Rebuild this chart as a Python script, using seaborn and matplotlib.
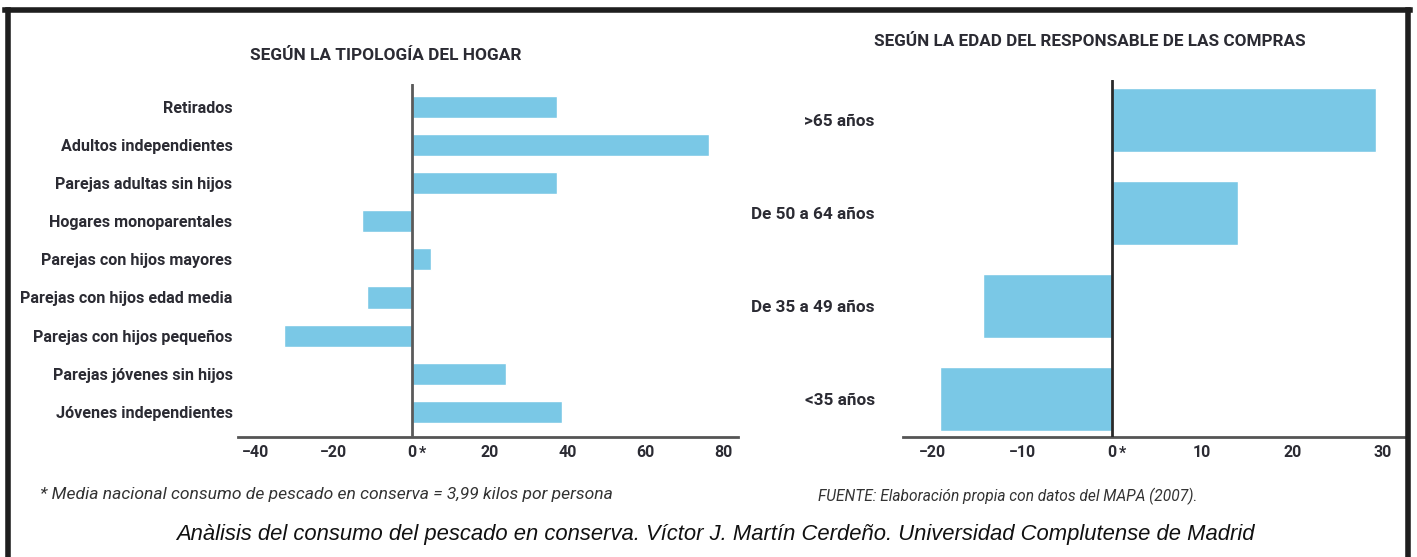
import seaborn as sns
import matplotlib.pyplot as plt
from matplotlib.lines import Line2D

sns.set_style("white")
plt.rcParams["font.family"] = ["Roboto", "DejaVu Sans"]

# ---------------------------
# data (desviación respecto a la media nacional, %)
# ---------------------------
tipologia = ["Retirados", "Adultos independientes", "Parejas adultas sin hijos",
             "Hogares monoparentales", "Parejas con hijos mayores",
             "Parejas con hijos edad media", "Parejas con hijos pequeños",
             "Parejas jóvenes sin hijos", "Jóvenes independientes"]
desv_hogar = [37.2, 76.2, 37.2, -12.8, 4.9, -11.5, -32.8, 24.1, 38.5]

edades = [">65 años", "De 50 a 64 años", "De 35 a 49 años", "<35 años"]
desv_edad = [29.3, 14.0, -14.4, -19.2]

ticks_hogar = [-40, -20, 0, 20, 40, 60, 80]
ticks_edad = [-20, -10, 0, 10, 20, 30]

BLUE = "#7AC8E6"
TXT = "#2b2b33"

fig = plt.figure(figsize=(14.17, 5.57), dpi=100)
ax1 = fig.add_axes([0.168, 0.2154, 0.353, 0.634])
ax2 = fig.add_axes([0.637, 0.2154, 0.355, 0.641])

# ---------------------------
# left: tipología del hogar
# ---------------------------
sns.barplot(x=desv_hogar, y=tipologia, orient="h", color=BLUE, width=0.58,
            saturation=1, ax=ax1)
ax1.set_xlim(-44.5, 83.7)
ax1.set_ylim(8.66, -0.60)
ax1.set_xticks(ticks_hogar)

# ---------------------------
# right: edad del responsable
# ---------------------------
sns.barplot(x=desv_edad, y=edades, orient="h", color=BLUE, width=0.69,
            saturation=1, ax=ax2)
ax2.set_xlim(-23.3, 32.6)
ax2.set_ylim(3.41, -0.43)
ax2.set_xticks(ticks_edad)

for ax, pad, ysize, zc in [(ax1, 4, 11.6, "#5a5a5a"), (ax2, 20, 12.3, "#2a2a2a")]:
    ax.axvline(0, color=zc, lw=2, zorder=3)
    for s in ["left", "right", "top"]:
        ax.spines[s].set_visible(False)
    ax.spines["bottom"].set_color("#555555")
    ax.spines["bottom"].set_linewidth(2)
    ax.set_xlabel("")
    ax.set_ylabel("")
    ax.tick_params(axis="x", length=0, pad=6, labelsize=11.5, labelcolor=TXT)
    ax.tick_params(axis="y", length=0, pad=pad, labelsize=ysize, labelcolor=TXT)
    for lab in ax.get_xticklabels() + ax.get_yticklabels():
        lab.set_fontweight("bold")
    ax.annotate("*", xy=(0, 0), xycoords=("data", "axes fraction"),
                xytext=(5, -6), textcoords="offset points",
                fontsize=11.5, fontweight="bold", color=TXT, ha="left", va="top")

# ---------------------------
# titles and notes
# ---------------------------
fig.text(0.272, 0.901, "SEGÚN LA TIPOLOGÍA DEL HOGAR", ha="center", va="center",
         fontsize=12.4, fontweight="bold", color=TXT)
fig.text(0.769, 0.925, "SEGÚN LA EDAD DEL RESPONSABLE DE LAS COMPRAS", ha="center",
         va="center", fontsize=12.3, fontweight="bold", color=TXT)
fig.text(0.028, 0.113, "* Media nacional consumo de pescado en conserva = 3,99 kilos por persona",
         ha="left", va="center", fontsize=12.6, style="italic", color="#333333")
fig.text(0.577, 0.109, "FUENTE: Elaboración propia con datos del MAPA (2007).",
         ha="left", va="center", fontsize=11.2, style="italic", color="#333333")
fig.text(0.5046, 0.0395,
         "Anàlisis del consumo del pescado en conserva. Víctor J. Martín Cerdeño. "
         "Universidad Complutense de Madrid",
         ha="center", va="center", fontsize=15.8, style="italic", color="#111111",
         family=["Liberation Sans", "DejaVu Sans"])

# frame (open at the bottom)
for xs, ys in [([5 / 1417, 1410 / 1417], [1 - 9.5 / 557] * 2),
               ([7.5 / 1417] * 2, [0, 1 - 9.5 / 557]),
               ([1408 / 1417] * 2, [0, 1 - 9.5 / 557])]:
    fig.add_artist(Line2D(xs, ys, color="#1e1e1e", lw=4, solid_capstyle="projecting",
                          transform=fig.transFigure))

fig.savefig("out.png", dpi=100)
